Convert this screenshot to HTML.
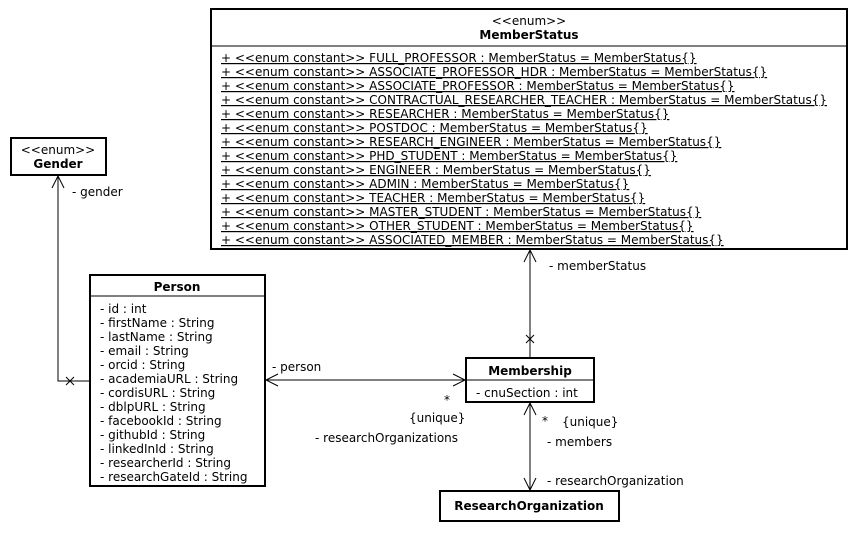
<!DOCTYPE html>
<html><head><meta charset="utf-8"><style>
body{margin:0;background:#fff}
svg text{font-family:"DejaVu Sans","Liberation Sans",sans-serif;font-size:12px;fill:#000}
.b{font-weight:bold}
</style></head><body>
<svg width="858" height="531" xmlns="http://www.w3.org/2000/svg">
<g fill="#fff" stroke="#000" stroke-width="2">
<rect x="211" y="9" width="636" height="240"/>
<rect x="11" y="138" width="95" height="37"/>
<rect x="90" y="275" width="175" height="211"/>
<rect x="466" y="358" width="128" height="44"/>
<rect x="440" y="491" width="179" height="30"/>
</g>
<g stroke="#000" stroke-width="1" fill="none">
<line x1="211" y1="46" x2="847" y2="46"/>
<line x1="90" y1="296" x2="265" y2="296"/>
<line x1="466" y1="380" x2="594" y2="380"/>
<polyline points="58,176 58,381 90,381"/>
<polyline points="52,188 58,176 64,188"/>
<path d="M66,377 l8,8 M74,377 l-8,8"/>
<line x1="266" y1="380" x2="465" y2="380"/>
<polyline points="278,374 266,380 278,386"/>
<polyline points="453,374 465,380 453,386"/>
<line x1="530" y1="250" x2="530" y2="357"/>
<polyline points="524,262 530,250 536,262"/>
<path d="M526,335 l8,8 M534,335 l-8,8"/>
<line x1="530" y1="403" x2="530" y2="490"/>
<polyline points="524,415 530,403 536,415"/>
<polyline points="524,478 530,490 536,478"/>
</g>
<text x="529" y="25" text-anchor="middle">&lt;&lt;enum&gt;&gt;</text>
<text x="529" y="39" text-anchor="middle" class="b">MemberStatus</text>
<g text-decoration="underline">
<text x="221" y="62">+ &lt;&lt;enum constant&gt;&gt; FULL_PROFESSOR : MemberStatus = MemberStatus{}</text>
<text x="221" y="76">+ &lt;&lt;enum constant&gt;&gt; ASSOCIATE_PROFESSOR_HDR : MemberStatus = MemberStatus{}</text>
<text x="221" y="90">+ &lt;&lt;enum constant&gt;&gt; ASSOCIATE_PROFESSOR : MemberStatus = MemberStatus{}</text>
<text x="221" y="104">+ &lt;&lt;enum constant&gt;&gt; CONTRACTUAL_RESEARCHER_TEACHER : MemberStatus = MemberStatus{}</text>
<text x="221" y="118">+ &lt;&lt;enum constant&gt;&gt; RESEARCHER : MemberStatus = MemberStatus{}</text>
<text x="221" y="132">+ &lt;&lt;enum constant&gt;&gt; POSTDOC : MemberStatus = MemberStatus{}</text>
<text x="221" y="146">+ &lt;&lt;enum constant&gt;&gt; RESEARCH_ENGINEER : MemberStatus = MemberStatus{}</text>
<text x="221" y="160">+ &lt;&lt;enum constant&gt;&gt; PHD_STUDENT : MemberStatus = MemberStatus{}</text>
<text x="221" y="174">+ &lt;&lt;enum constant&gt;&gt; ENGINEER : MemberStatus = MemberStatus{}</text>
<text x="221" y="188">+ &lt;&lt;enum constant&gt;&gt; ADMIN : MemberStatus = MemberStatus{}</text>
<text x="221" y="202">+ &lt;&lt;enum constant&gt;&gt; TEACHER : MemberStatus = MemberStatus{}</text>
<text x="221" y="216">+ &lt;&lt;enum constant&gt;&gt; MASTER_STUDENT : MemberStatus = MemberStatus{}</text>
<text x="221" y="230">+ &lt;&lt;enum constant&gt;&gt; OTHER_STUDENT : MemberStatus = MemberStatus{}</text>
<text x="221" y="244">+ &lt;&lt;enum constant&gt;&gt; ASSOCIATED_MEMBER : MemberStatus = MemberStatus{}</text>
</g>
<text x="58" y="154" text-anchor="middle">&lt;&lt;enum&gt;&gt;</text>
<text x="58" y="168" text-anchor="middle" class="b">Gender</text>
<text x="177" y="291" text-anchor="middle" class="b">Person</text>
<text x="100" y="313">- id : int</text>
<text x="100" y="327">- firstName : String</text>
<text x="100" y="341">- lastName : String</text>
<text x="100" y="355">- email : String</text>
<text x="100" y="369">- orcid : String</text>
<text x="100" y="383">- academiaURL : String</text>
<text x="100" y="397">- cordisURL : String</text>
<text x="100" y="411">- dblpURL : String</text>
<text x="100" y="425">- facebookId : String</text>
<text x="100" y="439">- githubId : String</text>
<text x="100" y="453">- linkedInId : String</text>
<text x="100" y="467">- researcherId : String</text>
<text x="100" y="481">- researchGateId : String</text>
<text x="530" y="375" text-anchor="middle" class="b">Membership</text>
<text x="476" y="397">- cnuSection : int</text>
<text x="529" y="510" text-anchor="middle" class="b">ResearchOrganization</text>
<text x="72" y="196">- gender</text>
<text x="549" y="270">- memberStatus</text>
<text x="272" y="371">- person</text>
<text x="444" y="404">*</text>
<text x="409" y="422">{unique}</text>
<text x="315" y="442">- researchOrganizations</text>
<text x="542" y="425">*</text>
<text x="562" y="426">{unique}</text>
<text x="547" y="446">- members</text>
<text x="547" y="485">- researchOrganization</text>
</svg>
</body></html>
